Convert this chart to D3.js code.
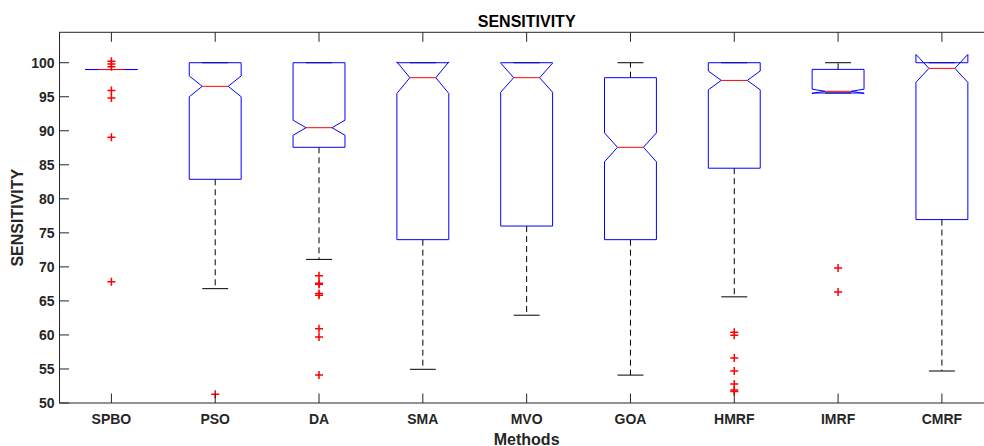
<!DOCTYPE html>
<html>
<head>
<meta charset="utf-8">
<script src="https://cdn.jsdelivr.net/npm/d3@7"></script>
<style>
  body { margin: 0; background: #fff; }
  svg { display: block; font-family: "Liberation Sans", Arial, Helvetica, sans-serif; }
</style>
</head>
<body>
<div id="chart"></div>
<script>
var WIDTH = 984;
var HEIGHT = 446;

// data
var methods = ["SPBO", "PSO", "DA", "SMA", "MVO", "GOA", "HMRF", "IMRF", "CMRF"];
var q1 = [99.0, 82.87, 87.57, 74.0, 76.0, 74.0, 84.5, 95.55, 76.95];
var medians = [99.0, 96.53, 90.45, 97.8, 97.8, 87.57, 97.4, 95.8, 99.17];
var q3 = [99.0, 100, 100, 100, 100, 97.8, 100, 99.02, 100];
var whiskerLow = [99.0, 66.8, 71.1, 54.95, 62.9, 54.1, 65.6, 95.55, 54.7];
var whiskerHigh = [99.0, 100, 100, 100, 100, 100, 100, 100, 100];
var outliers = [
	[100.2, 99.8, 99.4, 95.9, 94.8, 89.05, 67.8],
	[51.3],
	[68.7, 67.6, 67.45, 66.1, 65.85, 60.9, 59.7, 54.1],
	[],
	[],
	[],
	[60.4, 59.95, 56.6, 54.7, 52.8, 51.9, 51.7],
	[69.85, 66.3],
	[]
];
var sampleSize = 310; // used for notch width (matlab: 1.57*IQR/sqrt(n))
var yTicks = [50, 55, 60, 65, 70, 75, 80, 85, 90, 95, 100];

var plot = { left: 59.5, right: 993.8, top: 32.3, bottom: 403 };

var svg = d3.select("#chart")
	.append("svg")
	.attr("width", WIDTH)
	.attr("height", HEIGHT);

// scales
var xScale = d3.scaleLinear().domain([0.5, methods.length + 0.5]).range([plot.left, plot.right]);
var yScale = d3.scaleLinear().domain([50, 104.47]).range([plot.bottom, plot.top]);

var boxHalf = xScale(1.25) - xScale(1);
var capHalf = boxHalf / 2;
var tickLen = 9.5;
var axisColor = "#262626";

var rows = methods.map(function (m, i) {
	var iqr = q3[i] - q1[i];
	var notch = 1.57 * iqr / Math.sqrt(sampleSize);
	return {
		name: m,
		x: xScale(i + 1),
		q1: q1[i], med: medians[i], q3: q3[i],
		lo: whiskerLow[i], hi: whiskerHigh[i],
		nlo: medians[i] - notch, nhi: medians[i] + notch,
		out: outliers[i]
	};
});

// whiskers
var g = svg.append("g");
g.selectAll(".whisker-up")
	.data(rows)
	.join("line")
	.attr("x1", d => d.x).attr("x2", d => d.x)
	.attr("y1", d => yScale(d.q3)).attr("y2", d => yScale(d.hi))
	.attr("stroke", "#000").attr("stroke-width", 1)
	.attr("stroke-dasharray", "6,4");
g.selectAll(".whisker-down")
	.data(rows)
	.join("line")
	.attr("x1", d => d.x).attr("x2", d => d.x)
	.attr("y1", d => yScale(d.q1)).attr("y2", d => yScale(d.lo))
	.attr("stroke", "#000").attr("stroke-width", 1)
	.attr("stroke-dasharray", "6,4");

// caps
["hi", "lo"].forEach(function (k) {
	g.selectAll(".cap-" + k)
		.data(rows)
		.join("line")
		.attr("x1", d => d.x - capHalf).attr("x2", d => d.x + capHalf)
		.attr("y1", d => yScale(d[k])).attr("y2", d => yScale(d[k]))
		.attr("stroke", "#000").attr("stroke-width", 1);
});

// notched boxes
function boxPath(d) {
	var L = d.x - boxHalf, R = d.x + boxHalf, w = boxHalf / 2;
	var pts = [
		[L, d.q1], [L, d.nlo], [L + w, d.med], [L, d.nhi], [L, d.q3],
		[R, d.q3], [R, d.nhi], [R - w, d.med], [R, d.nlo], [R, d.q1]
	];
	return "M" + pts.map(p => p[0] + "," + yScale(p[1])).join("L") + "Z";
}
g.selectAll(".box")
	.data(rows)
	.join("path")
	.attr("d", boxPath)
	.attr("fill", "none")
	.attr("stroke", "#0000ff")
	.attr("stroke-width", 1);

// medians
g.selectAll(".median")
	.data(rows)
	.join("line")
	.attr("x1", d => d.x - boxHalf / 2).attr("x2", d => d.x + boxHalf / 2)
	.attr("y1", d => yScale(d.med)).attr("y2", d => yScale(d.med))
	.attr("stroke", "#ff0000").attr("stroke-width", 1);

// outliers
var pts = [];
rows.forEach(function (d) { d.out.forEach(v => pts.push({ x: d.x, v: v })); });
g.selectAll(".outlier")
	.data(pts)
	.join("path")
	.attr("d", d => {
		var cx = d.x, cy = yScale(d.v), s = 4;
		return "M" + (cx - s) + "," + cy + "H" + (cx + s) + "M" + cx + "," + (cy - s) + "V" + (cy + s);
	})
	.attr("stroke", "#ff0000").attr("stroke-width", 1.5).attr("fill", "none");

// axes frame
var ax = svg.append("g");
ax.append("rect")
	.attr("x", plot.left).attr("y", plot.top)
	.attr("width", plot.right - plot.left).attr("height", plot.bottom - plot.top)
	.attr("fill", "none").attr("stroke", axisColor).attr("stroke-width", 1);

// x ticks (bottom and top, pointing in)
ax.selectAll(".xtick-b")
	.data(rows)
	.join("line")
	.attr("x1", d => d.x).attr("x2", d => d.x)
	.attr("y1", plot.bottom).attr("y2", plot.bottom - tickLen)
	.attr("stroke", axisColor);
ax.selectAll(".xtick-t")
	.data(rows)
	.join("line")
	.attr("x1", d => d.x).attr("x2", d => d.x)
	.attr("y1", plot.top).attr("y2", plot.top + tickLen)
	.attr("stroke", axisColor);

// y ticks
ax.selectAll(".ytick")
	.data(yTicks)
	.join("line")
	.attr("x1", plot.left).attr("x2", plot.left + tickLen)
	.attr("y1", d => yScale(d)).attr("y2", d => yScale(d))
	.attr("stroke", axisColor);
ax.selectAll(".ytick-r")
	.data(yTicks)
	.join("line")
	.attr("x1", plot.right).attr("x2", plot.right - tickLen)
	.attr("y1", d => yScale(d)).attr("y2", d => yScale(d))
	.attr("stroke", axisColor);

// tick labels
ax.selectAll(".xlabel")
	.data(rows)
	.join("text")
	.attr("x", d => d.x)
	.attr("y", 423.5)
	.attr("text-anchor", "middle")
	.style("font-size", "14px")
	.style("font-weight", "bold")
	.attr("fill", axisColor)
	.text(d => d.name);

ax.selectAll(".ylabel")
	.data(yTicks)
	.join("text")
	.attr("x", 54.5)
	.attr("y", d => yScale(d) + 5)
	.attr("text-anchor", "end")
	.style("font-size", "14px")
	.style("font-weight", "bold")
	.attr("fill", axisColor)
	.text(d => d);

// titles
svg.append("text")
	.attr("x", (plot.left + plot.right) / 2)
	.attr("y", 26.5)
	.attr("text-anchor", "middle")
	.style("font-size", "16px")
	.style("font-weight", "bold")
	.attr("fill", "#000")
	.text("SENSITIVITY");

svg.append("text")
	.attr("x", (plot.left + plot.right) / 2)
	.attr("y", 444.5)
	.attr("text-anchor", "middle")
	.style("font-size", "16px")
	.style("font-weight", "bold")
	.attr("fill", axisColor)
	.text("Methods");

svg.append("text")
	.attr("transform", "rotate(-90)")
	.attr("x", -(plot.top + plot.bottom) / 2)
	.attr("y", 23.3)
	.attr("text-anchor", "middle")
	.style("font-size", "16px")
	.style("font-weight", "bold")
	.attr("fill", axisColor)
	.text("SENSITIVITY");
</script>
</body>
</html>
